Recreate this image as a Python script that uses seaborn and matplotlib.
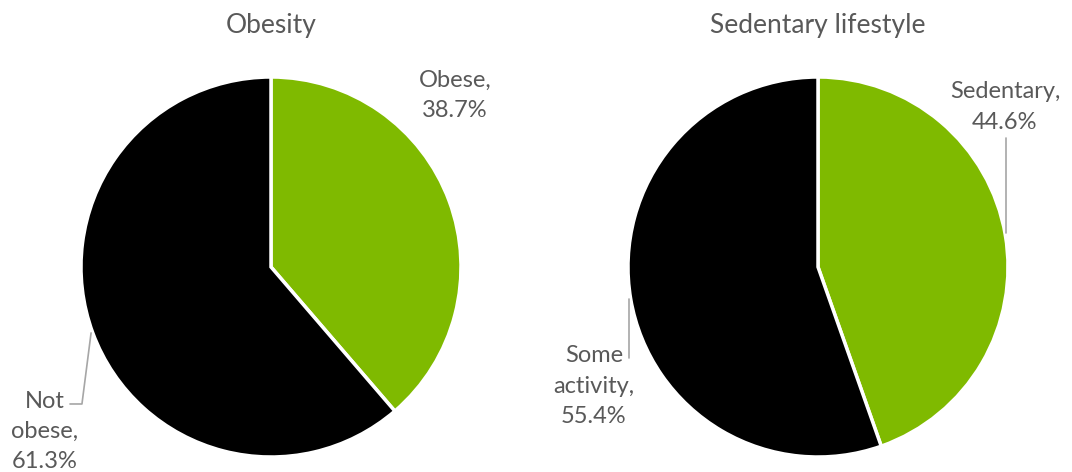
"""Two pie charts: obesity and sedentary lifestyle shares."""

import matplotlib

matplotlib.use("Agg")
import matplotlib.pyplot as plt
import seaborn as sns

# data
titles = ["Obesity", "Sedentary lifestyle"]
obesity_labels = ["Obese", "Not\nobese"]
obesity_values = [38.7, 61.3]
sedentary_labels = ["Sedentary", "Some\nactivity"]
sedentary_values = [44.6, 55.4]

GREEN = "#7fba00"
BLACK = "#000000"
TEXT = "#595959"
LEADER = "#a6a6a6"

sns.set_theme(style="white")
plt.rcParams["font.family"] = ["Lato", "DejaVu Sans"]

W, H, DPI = 1072, 472, 100
R = 190  # pie radius in px

fig = plt.figure(figsize=(W / DPI, H / DPI), dpi=DPI)

# (center x px, center y px, values, labels, label positions, leader lines)
panels = [
    (
        271,
        267,
        obesity_values,
        obesity_labels,
        [(0.968, 0.905), (-1.19, -0.865)],
        [[(-0.947, -0.347), (-0.995, -0.721), (-1.058, -0.721)]],
    ),
    (
        818,
        267,
        sedentary_values,
        sedentary_labels,
        [(0.984, 0.843), (-1.179, -0.628)],
        [[(0.989, 0.679), (0.989, 0.179)], [(-0.995, -0.168), (-0.995, -0.479)]],
    ),
]

for title, (cx, cy, values, labels, label_pos, leaders) in zip(titles, panels):
    ax = fig.add_axes([(cx - R) / W, (H - cy - R) / H, 2 * R / W, 2 * R / H])
    ax.pie(
        values,
        colors=[GREEN, BLACK],
        startangle=90,
        counterclock=False,
        radius=1,
        wedgeprops=dict(edgecolor="white", linewidth=2.5),
    )
    ax.set_xlim(-1, 1)
    ax.set_ylim(-1, 1)
    ax.set_aspect("equal")
    ax.axis("off")

    ax.text(0, 1.27, title, ha="center", va="center", fontsize=19, color=TEXT)

    for lab, val, (x, y) in zip(labels, values, label_pos):
        ax.text(
            x, y, f"{lab},\n{val:.1f}%", ha="center", va="center",
            fontsize=17, color=TEXT, linespacing=1.55, clip_on=False,
        )
    for pts in leaders:
        xs, ys = zip(*pts)
        ax.plot(xs, ys, color=LEADER, linewidth=1.2, clip_on=False)

fig.savefig("out.png", dpi=DPI)
